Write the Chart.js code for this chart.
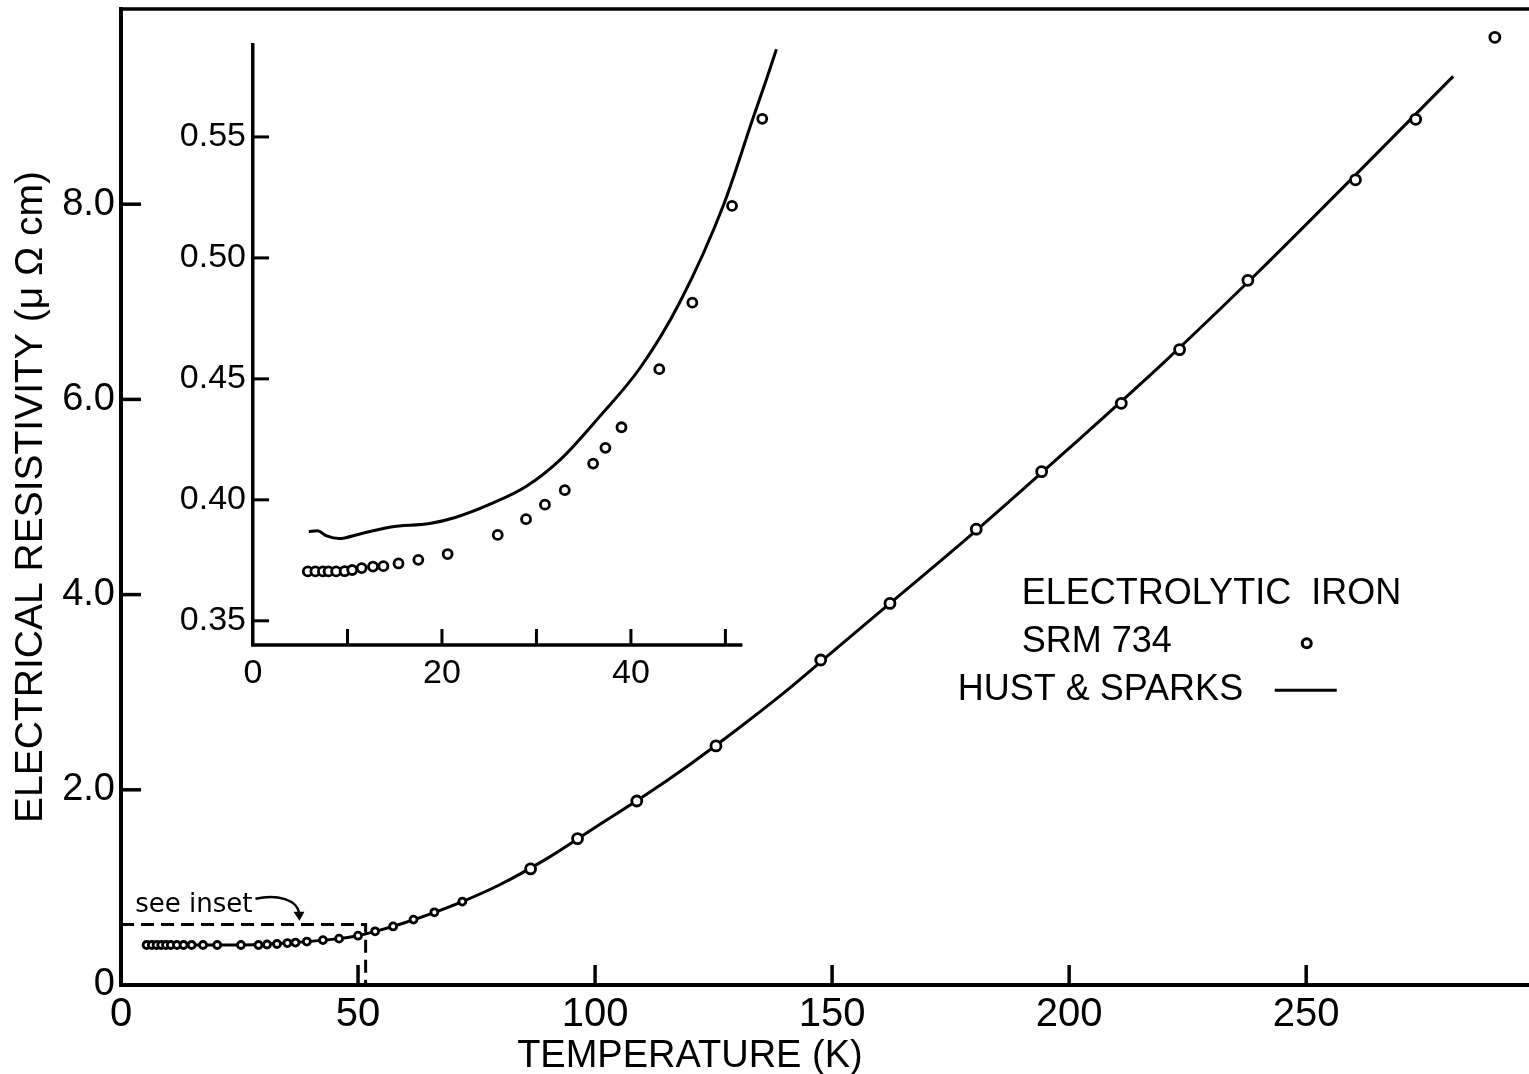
<!DOCTYPE html>
<html>
<head>
<meta charset="utf-8">
<title>Electrolytic iron - electrical resistivity</title>
<script src="https://cdn.jsdelivr.net/npm/chart.js@4.4.1/dist/chart.umd.min.js"></script>
<style>
  html, body { margin: 0; padding: 0; background: #fff; }
  #wrap { position: relative; width: 1529px; height: 1074px; overflow: hidden; background: #fff; }
  #main { position: absolute; left: 0; top: 0; }
  #inset { position: absolute; left: 140px; top: 25px; }
</style>
</head>
<body>
<div id="wrap">
  <canvas id="main" width="1529" height="1074"></canvas>
  <canvas id="inset" width="661" height="680"></canvas>
</div>
<script>
// SRM 734 measured points, temperature (K) and resistivity (µΩ cm)
const mainTemp = [5.4, 6.5, 7.5, 8.5, 9.5, 10.5, 11.8, 13.2, 14.9, 17.3, 20.3, 25.3, 29.0,
    30.8, 32.9, 35.1, 36.8, 39.2, 42.6, 46.0, 50.0, 53.6, 57.4, 61.7, 66.1, 72.0,
    86.4, 96.3, 108.8, 125.5, 147.6, 162.2, 180.4, 194.2, 211.0, 223.3, 237.7, 260.4, 273.1, 289.8];
const mainRes = [0.41, 0.41, 0.41, 0.41, 0.41, 0.41, 0.41, 0.41, 0.41, 0.41, 0.41, 0.41, 0.41,
    0.415, 0.42, 0.43, 0.435, 0.445, 0.46, 0.475, 0.505, 0.55, 0.60, 0.67, 0.745, 0.855,
    1.19, 1.50, 1.885, 2.45, 3.33, 3.91, 4.67, 5.26, 5.96, 6.51, 7.22, 8.25, 8.87, 9.71];

// Hust & Sparks curve over the full range
const curveTemp = [5, 15, 25, 35, 45, 50, 55, 60, 65, 72, 80, 90, 100, 110, 120, 130, 140,
    150, 160, 180, 200, 220, 240, 260, 281];
const curveRes = [0.41, 0.41, 0.41, 0.43, 0.47, 0.505, 0.567, 0.64, 0.724, 0.855, 1.03, 1.30,
    1.614, 1.925, 2.26, 2.62, 3.00, 3.41, 3.82, 4.64, 5.50, 6.38, 7.31, 8.28, 9.31];

// low temperature detail (inset)
const insetTemp = [5.8, 6.6, 7.4, 8.0, 8.8, 9.7, 10.5, 11.5, 12.7, 13.8, 15.4, 17.5, 20.6,
    25.9, 28.9, 30.9, 33.0, 36.0, 37.3, 39.0, 43.0, 46.5, 50.7, 53.9];
const insetRes = [0.3704, 0.3704, 0.3704, 0.3704, 0.3704, 0.3705, 0.371, 0.3718, 0.3724,
    0.3726, 0.3737, 0.3752, 0.3776, 0.3855, 0.392, 0.398, 0.404, 0.415, 0.4215, 0.430,
    0.454, 0.4815, 0.5215, 0.5575];
const insetCurveTemp = [5.9, 6.8, 7.8, 9.1, 11.2, 14.6, 18.7, 21.4, 25.1, 28.9, 32.5, 36.7,
    41.0, 45.2, 49.8, 52.9, 54.4, 55.4];
const insetCurveRes = [0.3869, 0.3872, 0.3851, 0.3840, 0.3858, 0.3888, 0.3902, 0.3927, 0.3982,
    0.4055, 0.4165, 0.4345, 0.4547, 0.4819, 0.5219, 0.5575, 0.5745, 0.5863];

// ticks
const mainXTicks = [0, 50, 100, 150, 200, 250];
const mainYTicks = [0, 2, 4, 6, 8];
const insetXTicks = [0, 10, 20, 30, 40, 50];
const insetXLabels = [0, 20, 40];
const insetYTicks = [0.35, 0.40, 0.45, 0.50, 0.55];

// region covered by the inset (dashed box on the main plot)
const insetBoxTemp = 51.6;
const insetBoxRes = 0.62;
const insetAxisEnd = 51.8;

const FONT = "'Liberation Sans', Arial, sans-serif";
Chart.defaults.font.family = FONT;
Chart.defaults.color = '#000';

const toPoints = (xs, ys) => xs.map((x, i) => ({x: x, y: ys[i]}));

// fixed axis box size, no extra room for overhanging labels
const fixBox = (prop, size) => s => {
    s[prop] = size;
    s.paddingTop = 0;
    s.paddingBottom = 0;
    s.paddingLeft = 0;
    s.paddingRight = 0;
};

// short tick marks drawn inside the plot
const inwardTicks = {
    id: 'inwardTicks',
    afterDraw(chart, args, opts) {
        const ctx = chart.ctx;
        const xs = chart.scales.x, ys = chart.scales.y;
        ctx.save();
        ctx.strokeStyle = '#000';
        ctx.lineWidth = opts.width;
        opts.xValues.forEach(v => {
            const px = xs.getPixelForValue(v);
            ctx.beginPath();
            ctx.moveTo(px, xs.top);
            ctx.lineTo(px, xs.top - opts.length);
            ctx.stroke();
        });
        opts.yValues.forEach(v => {
            const py = ys.getPixelForValue(v);
            ctx.beginPath();
            ctx.moveTo(ys.right, py);
            ctx.lineTo(ys.right + opts.length, py);
            ctx.stroke();
        });
        ctx.restore();
    }
};

// frame top, dashed inset box, notes and legend of the main plot
const mainNotes = {
    id: 'mainNotes',
    afterDraw(chart) {
        const ctx = chart.ctx;
        const xs = chart.scales.x, ys = chart.scales.y;
        const area = chart.chartArea;
        ctx.save();
        ctx.strokeStyle = '#000';
        ctx.fillStyle = '#000';

        // top of frame
        ctx.lineWidth = 3.5;
        ctx.beginPath();
        ctx.moveTo(area.left - 2, area.top);
        ctx.lineTo(area.right, area.top);
        ctx.stroke();

        // dashed box around the inset range
        const bx = xs.getPixelForValue(insetBoxTemp);
        const by = ys.getPixelForValue(insetBoxRes);
        ctx.lineWidth = 3;
        ctx.setLineDash([13, 7]);
        ctx.beginPath();
        ctx.moveTo(area.left, by);
        ctx.lineTo(bx, by);
        ctx.lineTo(bx, area.bottom);
        ctx.stroke();
        ctx.setLineDash([]);

        // "see inset" with its curved arrow
        ctx.font = '26px DejaVu Sans';
        ctx.textAlign = 'left';
        ctx.textBaseline = 'alphabetic';
        const sx = xs.getPixelForValue(3), sy = ys.getPixelForValue(0.75);
        ctx.fillText('see inset', sx, sy);
        const tx = sx + ctx.measureText('see inset').width + 3;
        ctx.lineWidth = 2.5;
        ctx.beginPath();
        ctx.moveTo(tx, sy - 13);
        ctx.bezierCurveTo(tx + 22, sy - 18, tx + 42, sy - 12, tx + 44, sy + 2);
        ctx.stroke();
        ctx.beginPath();
        ctx.moveTo(tx + 44, sy + 9);
        ctx.lineTo(tx + 38, sy);
        ctx.lineTo(tx + 49, sy);
        ctx.closePath();
        ctx.fill();

        // legend
        const lx = xs.getPixelForValue(190);
        const ly = ys.getPixelForValue(3.9);
        ctx.font = '36px ' + FONT;
        ctx.fillText('ELECTROLYTIC  IRON', lx, ly);
        ctx.fillText('SRM 734', lx, ly + 48);
        ctx.fillText('HUST & SPARKS', lx - 64, ly + 96);
        ctx.lineWidth = 3;
        ctx.fillStyle = '#fff';
        ctx.beginPath();
        ctx.arc(lx + 285, ly + 39, 4.5, 0, Math.PI * 2);
        ctx.fill();
        ctx.stroke();
        ctx.beginPath();
        ctx.moveTo(lx + 253, ly + 86);
        ctx.lineTo(lx + 315, ly + 86);
        ctx.stroke();

        // x axis title
        ctx.fillStyle = '#000';
        ctx.font = '38px ' + FONT;
        ctx.textAlign = 'center';
        ctx.fillText('TEMPERATURE (K)', xs.getPixelForValue(120), chart.height - 7);
        ctx.restore();
    }
};

// inset x axis line stops short of the right edge
const insetAxis = {
    id: 'insetAxis',
    afterDraw(chart) {
        const ctx = chart.ctx;
        const xs = chart.scales.x;
        ctx.save();
        ctx.strokeStyle = '#000';
        ctx.lineWidth = 3.5;
        ctx.beginPath();
        ctx.moveTo(xs.getPixelForValue(0) - 2, xs.top);
        ctx.lineTo(xs.getPixelForValue(insetAxisEnd), xs.top);
        ctx.stroke();
        ctx.restore();
    }
};

const mainChart = new Chart(document.getElementById('main'), {
    type: 'scatter',
    data: {
        datasets: [{
            label: 'SRM 734',
            data: toPoints(mainTemp, mainRes),
            showLine: false,
            pointStyle: 'circle',
            pointRadius: c => mainTemp[c.dataIndex] < 75 ? 3.5 : 5,
            pointBorderWidth: 2.8,
            pointBorderColor: '#000',
            pointBackgroundColor: '#fff',
            order: 0
        }, {
            label: 'HUST & SPARKS',
            data: toPoints(curveTemp, curveRes),
            showLine: true,
            borderColor: '#000',
            borderWidth: 3,
            pointRadius: 0,
            cubicInterpolationMode: 'monotone',
            order: 1
        }]
    },
    options: {
        responsive: false,
        animation: false,
        layout: { autoPadding: false, padding: { top: 9, left: 0, right: 0, bottom: 0 } },
        plugins: {
            legend: { display: false },
            tooltip: { enabled: false },
            inwardTicks: { xValues: mainXTicks.slice(1), yValues: mainYTicks.slice(1), length: 20, width: 3.5 }
        },
        scales: {
            x: {
                type: 'linear',
                min: 0,
                max: 297,
                afterBuildTicks: s => { s.ticks = mainXTicks.map(v => ({value: v})); },
                afterFit: fixBox('height', 89),
                grid: { display: false, drawTicks: false },
                border: { display: true, color: '#000', width: 4 },
                ticks: { font: { size: 40 }, padding: 6, maxRotation: 0, callback: v => String(v) }
            },
            y: {
                type: 'linear',
                min: 0,
                max: 10,
                afterBuildTicks: s => { s.ticks = mainYTicks.map(v => ({value: v})); },
                afterFit: fixBox('width', 121),
                grid: { display: false, drawTicks: false },
                border: { display: true, color: '#000', width: 4 },
                ticks: { font: { size: 38 }, padding: 6, callback: v => v === 0 ? '0' : v.toFixed(1) },
                title: {
                    display: true,
                    text: 'ELECTRICAL RESISTIVITY (μ Ω cm)',
                    font: { size: 39 },
                    padding: { top: 8, bottom: 0 }
                }
            }
        }
    },
    plugins: [inwardTicks, mainNotes]
});

const insetChart = new Chart(document.getElementById('inset'), {
    type: 'scatter',
    data: {
        datasets: [{
            label: 'SRM 734',
            data: toPoints(insetTemp, insetRes),
            showLine: false,
            pointRadius: 4.5,
            pointBorderWidth: 2.8,
            pointBorderColor: '#000',
            pointBackgroundColor: '#fff',
            order: 0
        }, {
            label: 'HUST & SPARKS',
            data: toPoints(insetCurveTemp, insetCurveRes),
            showLine: true,
            borderColor: '#000',
            borderWidth: 3,
            pointRadius: 0,
            cubicInterpolationMode: 'monotone',
            order: 1
        }]
    },
    options: {
        responsive: false,
        animation: false,
        layout: { autoPadding: false, padding: { top: 20, left: 0, right: 0, bottom: 0 } },
        plugins: {
            legend: { display: false },
            tooltip: { enabled: false },
            inwardTicks: { xValues: insetXTicks.slice(1), yValues: insetYTicks, length: 16, width: 3 }
        },
        scales: {
            x: {
                type: 'linear',
                min: 0,
                max: 58,
                afterBuildTicks: s => { s.ticks = insetXTicks.map(v => ({value: v})); },
                afterFit: fixBox('height', 60),
                grid: { display: false, drawTicks: false },
                border: { display: false },
                ticks: { font: { size: 34 }, padding: 8, maxRotation: 0,
                    callback: v => insetXLabels.includes(v) ? String(v) : '' }
            },
            y: {
                type: 'linear',
                min: 0.34,
                max: 0.588,
                afterBuildTicks: s => { s.ticks = insetYTicks.map(v => ({value: v})); },
                afterFit: fixBox('width', 113),
                grid: { display: false, drawTicks: false },
                border: { display: true, color: '#000', width: 3.5 },
                ticks: { font: { size: 34 }, padding: 7, callback: v => v.toFixed(2) }
            }
        }
    },
    plugins: [inwardTicks, insetAxis]
});
</script>
</body>
</html>
